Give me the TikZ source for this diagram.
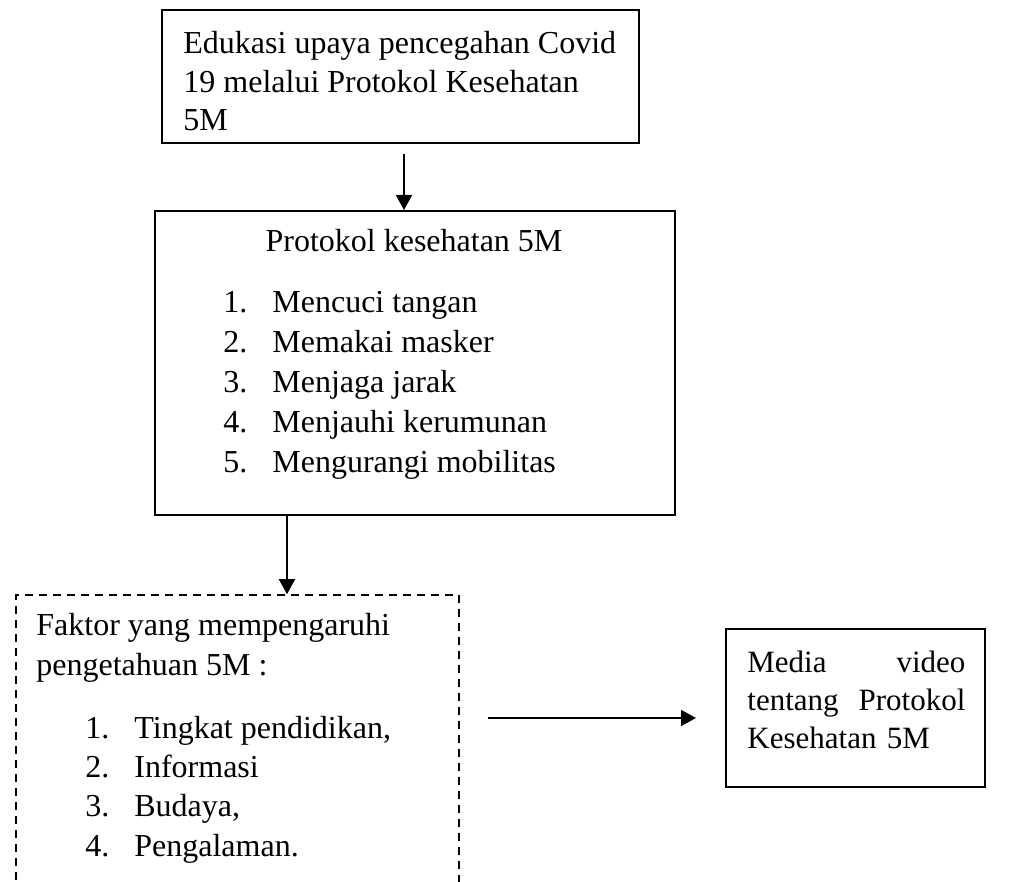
\documentclass[tikz,border=0pt]{standalone}
\usepackage{fontspec}
\setmainfont{Liberation Serif}
\usetikzlibrary{arrows.meta,positioning}

\tikzset{
  box/.style={draw, line width=1pt, inner sep=0pt},
  dashbox/.style={draw, line width=0.8pt, dash pattern=on 4pt off 3pt, inner sep=0pt},
  txt/.style={inner sep=0pt, align=left, font=\fontsize{16pt}{19.25pt}\selectfont},
  conn/.style={line width=0.9pt, -{Triangle[length=7.5pt,width=8pt]}}
}
\newcommand{\listno}[1]{\makebox[24.5pt][l]{#1.}}

\begin{document}
\begin{tikzpicture}[x=0.5pt, y=-0.5pt]
  \useasboundingbox (0,0) rectangle (1012,882);
  \clip (0,0) rectangle (1012,882);

  \node[box, minimum width=238.5pt, minimum height=66.5pt] (edukasi) at (400.5,76.5) {};
  \node[txt, anchor=north west] (edukasitext) at (183,31)
    {Edukasi upaya pencegahan Covid\\19 melalui Protokol Kesehatan\\5M};

  \node[box, minimum width=260pt, minimum height=152pt] (protokol) at (415,363) {};
  \node[txt, anchor=base] (protokoltitle) at (414,252) {Protokol kesehatan 5M};
  \node[txt, anchor=north west, font=\fontsize{16pt}{20pt}\selectfont] (protokollist) at (223,290.5)
    {\listno{1}Mencuci tangan\\\listno{2}Memakai masker\\\listno{3}Menjaga jarak\\
     \listno{4}Menjauhi kerumunan\\\listno{5}Mengurangi mobilitas};

  \node[dashbox, minimum width=221.5pt, minimum height=167.5pt] (faktor) at (237.5,762.5) {};
  \node[txt, anchor=north west, font=\fontsize{16pt}{20pt}\selectfont] (faktortitle) at (36,613)
    {Faktor yang mempengaruhi\\pengetahuan 5M :};
  \node[txt, anchor=north west, font=\fontsize{16pt}{19.65pt}\selectfont] (faktorlist) at (85,715.5)
    {\listno{1}Tingkat pendidikan,\\\listno{2}Informasi\\\listno{3}Budaya,\\\listno{4}Pengalaman.};

  \node[box, minimum width=129.5pt, minimum height=79pt] (media) at (855.5,708) {};
  \node[txt, anchor=north west, text width=109pt, font=\fontsize{15.5pt}{19pt}\selectfont] (mediatext) at (747,650.5)
    {Media\hfill video\\tentang\hfill Protokol\\Kesehatan 5M};

  \coordinate (a1) at (404,154);
  \coordinate (a2) at (287,0);
  \coordinate (a3) at (488,718);
  \draw[conn] (a1) -- (a1 |- protokol.north);
  \draw[conn] (a2 |- protokol.south) -- (a2 |- faktor.north);
  \draw[conn] (a3) -- ([xshift=-14.5pt]media.west |- a3);
\end{tikzpicture}
\end{document}
